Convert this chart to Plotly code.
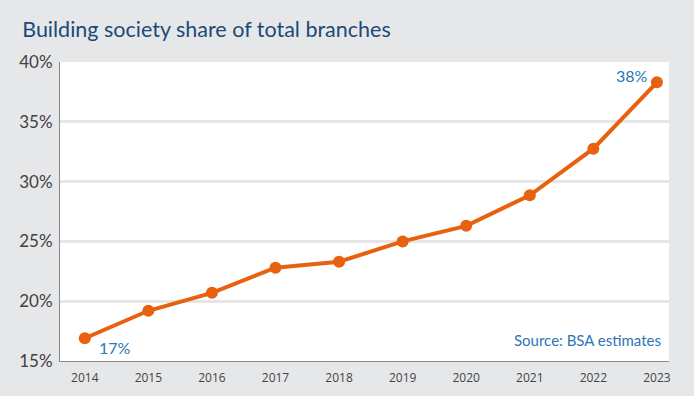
import plotly.graph_objects as go

years = [2014, 2015, 2016, 2017, 2018, 2019, 2020, 2021, 2022, 2023]
share = [16.9, 19.2, 20.7, 22.8, 23.3, 25.0, 26.3, 28.85, 32.75, 38.3]
y_ticks = [15, 20, 25, 30, 35, 40]
y_tick_text = ["15%", "20%", "25%", "30%", "35%", "40%"]

orange = "#e8610e"
blue = "#2e75b6"

fig = go.Figure()
fig.add_trace(go.Scatter(
    x=years, y=share, mode="lines+markers",
    line=dict(color=orange, width=4),
    marker=dict(color=orange, size=12),
    hoverinfo="skip", showlegend=False,
))

fig.add_annotation(x=years[0], y=share[0], text=f"{round(share[0])}%", showarrow=False,
                   xanchor="left", yanchor="middle", xshift=12, yshift=-9,
                   font=dict(family="Lato", size=16, color=blue))
fig.add_annotation(x=years[-1], y=share[-1], text=f"{round(share[-1])}%", showarrow=False,
                   xanchor="right", yanchor="middle", xshift=-7, yshift=7,
                   font=dict(family="Lato", size=16, color=blue))
fig.add_annotation(xref="paper", yref="paper", x=0.99, y=0.07, text="Source: BSA estimates",
                   showarrow=False, xanchor="right", yanchor="middle",
                   font=dict(family="Lato", size=15, color=blue))

fig.update_layout(
    width=694, height=396,
    paper_bgcolor="#e6e7e9", plot_bgcolor="#ffffff",
    margin=dict(l=60, r=25, t=62, b=35, autoexpand=False),
    title=dict(text="Building society share of total branches", x=0.032, xanchor="left",
               y=0.925, yanchor="middle",
               font=dict(family="Lato", size=21.5, color="#1b4a78")),
    xaxis=dict(range=[2013.61, 2023.19], tickvals=years, ticktext=[str(y) for y in years],
               showgrid=False, zeroline=False, showline=True, linecolor="#8a8a8a", linewidth=1,
               ticks="", ticklabelstandoff=6,
               tickfont=dict(family="Open Sans", size=12, color="#444444")),
    yaxis=dict(range=[15, 40], tickvals=y_ticks, ticktext=y_tick_text,
               showgrid=True, gridcolor="#e6e6e6", gridwidth=3, zeroline=False,
               showline=True, linecolor="#8a8a8a", linewidth=1, ticks="",
               ticklabelstandoff=3,
               tickfont=dict(family="Lato", size=17, color="#404040")),
)

fig.write_html("out.html", config={"displayModeBar": False},
               post_script="document.body.style.margin='0px';document.body.style.background='#e6e7e9';")
